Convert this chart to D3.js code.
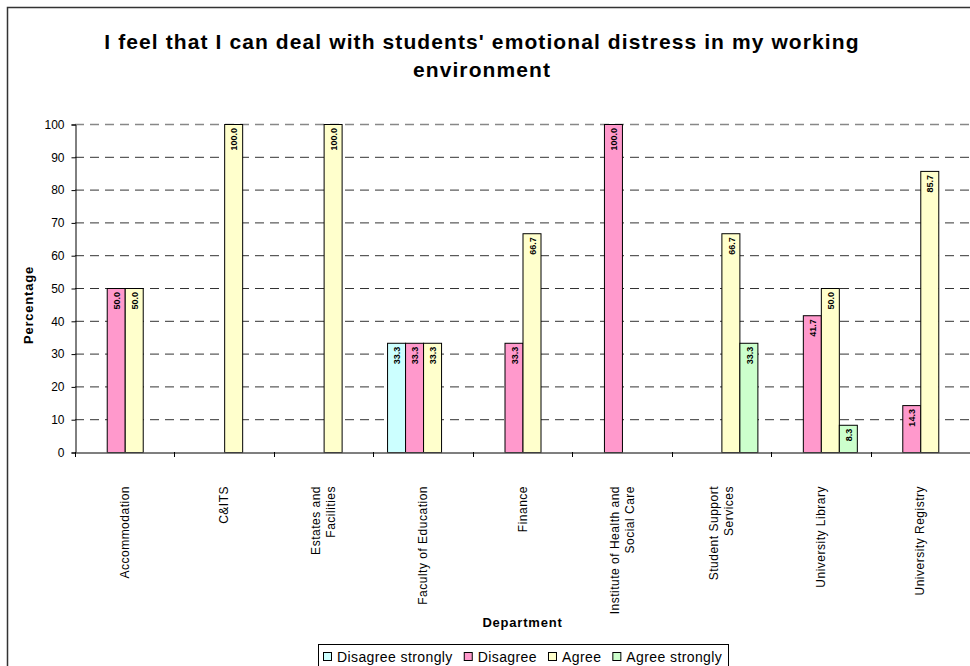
<!DOCTYPE html>
<html>
<head>
<meta charset="utf-8">
<script src="https://cdn.jsdelivr.net/npm/d3@7"></script>
<style>
  body { margin: 0; background: #fff; }
  svg text { font-family: Arial, "Liberation Sans", sans-serif; fill: #000; }
</style>
</head>
<body>
<div id="chart"></div>
<script>
// data
var departments = [
  ["Accommodation"],
  ["C&ITS"],
  ["Estates and", "Facilities"],
  ["Faculty of Education"],
  ["Finance"],
  ["Institute of Health and", "Social Care"],
  ["Student Support", "Services"],
  ["University Library"],
  ["University Registry"]
]
var seriesNames = ["Disagree strongly", "Disagree", "Agree", "Agree strongly"]
var seriesColors = ["#CCFFFF", "#FF99CC", "#FFFFCC", "#CCFFCC"]
var disagreeStrongly = [0, 0, 0, 33.3, 0, 0, 0, 0, 0]
var disagree = [50.0, 0, 0, 33.3, 33.3, 100.0, 0, 41.7, 14.3]
var agree = [50.0, 100.0, 100.0, 33.3, 66.7, 0, 66.7, 50.0, 85.7]
var agreeStrongly = [0, 0, 0, 0, 0, 0, 33.3, 8.3, 0]
var yTicks = [0, 10, 20, 30, 40, 50, 60, 70, 80, 90, 100]

var allSeries = [disagreeStrongly, disagree, agree, agreeStrongly]

var W = 970, H = 666
var plot = { left: 75, right: 970, top: 124, bottom: 452 }

var svg = d3.select("#chart").append("svg")
  .attr("width", W)
  .attr("height", H)

// outer chart border
svg.append("rect")
  .attr("x", 7.5).attr("y", 7.5)
  .attr("width", W + 10).attr("height", H + 10)
  .attr("fill", "none")
  .attr("stroke", "#333")
  .attr("stroke-width", 1.5)

// title
var title = svg.append("text")
  .attr("text-anchor", "middle")
  .style("font-size", "21px")
  .style("font-weight", "bold")
  .style("letter-spacing", "1.1px")
title.append("tspan").attr("x", 482).attr("y", 49)
  .text("I feel that I can deal with students' emotional distress in my working")
title.append("tspan").attr("x", 482).attr("y", 77).text("environment")

var x = d3.scaleBand()
  .domain(d3.range(departments.length))
  .range([plot.left, plot.right])

var xSeries = d3.scaleBand()
  .domain(d3.range(seriesNames.length))
  .range([0, 72])

var y = d3.scaleLinear()
  .domain([0, 100])
  .range([plot.bottom, plot.top])

// gridlines
svg.append("g").selectAll("line")
  .data(yTicks.filter(function (d) { return d > 0 }))
  .enter().append("line")
  .attr("x1", plot.left).attr("x2", plot.right)
  .attr("y1", function (d) { return y(d) + 0.5 })
  .attr("y2", function (d) { return y(d) + 0.5 })
  .attr("stroke", function (d) { return d === 100 ? "#888" : "#333" })
  .attr("stroke-width", function (d) { return d === 100 ? 1.5 : 1 })
  .attr("stroke-dasharray", "9,6")

// bars
var groups = svg.append("g").selectAll("g")
  .data(allSeries)
  .enter().append("g")

groups.selectAll("rect")
  .data(function (s, si) {
    return s.map(function (v, i) { return { s: si, i: i, v: v } })
  })
  .enter().filter(function (d) { return d.v > 0 })
  .append("rect")
  .attr("x", function (d) { return x(d.i) + x.bandwidth() / 2 - 36 + xSeries(d.s) + 0.5 })
  .attr("y", function (d) { return y(d.v) + 0.5 })
  .attr("width", xSeries.bandwidth())
  .attr("height", function (d) { return plot.bottom - y(d.v) })
  .attr("fill", function (d) { return seriesColors[d.s] })
  .attr("stroke", "#000")
  .attr("stroke-width", 1)

// value labels
groups.selectAll("text")
  .data(function (s, si) {
    return s.map(function (v, i) { return { s: si, i: i, v: v } })
  })
  .enter().filter(function (d) { return d.v > 0 })
  .append("text")
  .attr("transform", function (d) {
    var cx = x(d.i) + x.bandwidth() / 2 - 36 + xSeries(d.s) + xSeries.bandwidth() / 2 + 1
    return "translate(" + cx + "," + (y(d.v) + 4) + ") rotate(-90)"
  })
  .attr("text-anchor", "end")
  .attr("dy", "0.35em")
  .style("font-size", "9px")
  .style("font-weight", "bold")
  .text(function (d) { return d.v.toFixed(1) })

// y axis
var yAxis = d3.axisLeft(y).tickValues(yTicks).tickSize(4).tickPadding(7)
var yg = svg.append("g")
  .attr("transform", "translate(" + (plot.left + 0.5) + ",0.5)")
  .call(yAxis)
yg.select(".domain").attr("stroke", "#000")
yg.selectAll("text").style("font-size", "12px").style("font-family", "Arial, 'Liberation Sans', sans-serif")

// x axis
var xAxis = d3.axisBottom(x).tickSize(0).tickFormat("")
var xg = svg.append("g")
  .attr("transform", "translate(0," + (plot.bottom + 0.5) + ")")
  .call(xAxis)
xg.select(".domain").attr("stroke", "#555").attr("stroke-width", 1.5)
xg.selectAll(".tick").remove()

// category separators
svg.append("g").selectAll("line")
  .data(d3.range(departments.length + 1))
  .enter().append("line")
  .attr("x1", function (i) { return Math.round(plot.left + i * x.step()) + 0.5 })
  .attr("x2", function (i) { return Math.round(plot.left + i * x.step()) + 0.5 })
  .attr("y1", plot.bottom)
  .attr("y2", plot.bottom + 5)
  .attr("stroke", "#000")

// category labels
svg.append("g").selectAll("text")
  .data(departments)
  .enter().append("text")
  .attr("text-anchor", "end")
  .style("font-size", "12px")
  .style("letter-spacing", "0.5px")
  .each(function (lines, i) {
    var cx = x(i) + x.bandwidth() / 2
    var t = d3.select(this)
      .attr("transform", "translate(" + cx + ",486) rotate(-90)")
    var off = (lines.length - 1) * 7.5
    lines.forEach(function (line, k) {
      t.append("tspan")
        .attr("x", 0)
        .attr("y", -off + k * 15)
        .attr("dy", "0.35em")
        .text(line)
    })
  })

// axis titles
svg.append("text")
  .attr("transform", "translate(33,305) rotate(-90)")
  .attr("text-anchor", "middle")
  .style("font-size", "13px")
  .style("font-weight", "bold")
  .style("letter-spacing", "0.8px")
  .text("Percentage")

svg.append("text")
  .attr("x", (plot.left + plot.right) / 2)
  .attr("y", 627)
  .attr("text-anchor", "middle")
  .style("font-size", "13px")
  .style("font-weight", "bold")
  .style("letter-spacing", "0.8px")
  .text("Department")

// legend
var legend = svg.append("g")
legend.append("rect")
  .attr("x", 318.5).attr("y", 644.5)
  .attr("width", 410).attr("height", 40)
  .attr("fill", "#fff")
  .attr("stroke", "#000")

var lx = 323
seriesNames.forEach(function (name, i) {
  legend.append("rect")
    .attr("x", lx + 0.5).attr("y", 652.5)
    .attr("width", 8).attr("height", 8)
    .attr("fill", seriesColors[i])
    .attr("stroke", "#000")
  var t = legend.append("text")
    .attr("x", lx + 14)
    .attr("y", 657)
    .attr("dy", "0.35em")
    .style("font-size", "14px")
    .style("letter-spacing", "0.4px")
    .text(name)
  lx += 14 + t.node().getComputedTextLength() + 11
})
</script>
</body>
</html>
